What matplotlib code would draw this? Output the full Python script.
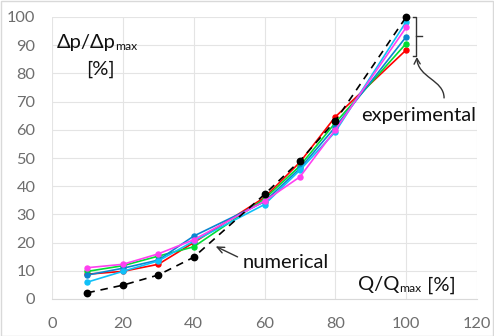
import matplotlib
matplotlib.use("Agg")
import matplotlib.pyplot as plt
from matplotlib.patches import FancyArrowPatch, Rectangle
from matplotlib.path import Path

plt.rcParams['font.family'] = ['Lato', 'DejaVu Sans']

q = [10, 20, 30, 40, 60, 70, 80, 100]
red = [8.8, 9.8, 12.3, 20.0, 36.0, 48.5, 64.6, 88.3]
green = [9.8, 11.8, 15.2, 18.5, 35.5, 47.2, 62.5, 90.6]
blue = [8.5, 10.9, 13.8, 22.3, 34.5, 46.3, 61.0, 93.0]
cyan = [6.0, 9.8, 13.5, 20.5, 33.5, 45.7, 59.3, 98.3]
magenta = [11.1, 12.3, 16.0, 21.0, 34.7, 43.3, 60.0, 96.3]
numerical = [2.2, 4.9, 8.5, 14.8, 37.1, 49.0, 63.2, 100.0]

xticks = [0, 20, 40, 60, 80, 100, 120]
yticks = [0, 10, 20, 30, 40, 50, 60, 70, 80, 90, 100]

W, H = 494, 336
fig = plt.figure(figsize=(W / 100, H / 100), dpi=100)
ax = fig.add_axes([52 / W, (H - 299) / H, (477 - 52) / W, (299 - 17) / H])

series = [(red, '#FF0000'), (green, '#00DD33'), (blue, '#0A86D0'),
          (cyan, '#10C0F8'), (magenta, '#FF40F0')]
for vals, c in series:
    ax.plot(q, vals, color=c, lw=1.2, marker='o', ms=3.6, mec=c, mfc=c, zorder=3)
ax.plot(q, numerical, color='black', lw=1.2, ls=(0, (4.5, 3.5)), marker='o',
        ms=4.6, mfc='black', mec='black', zorder=4, clip_on=False)

ax.set_xlim(0, 120)
ax.set_ylim(0, 100)
ax.set_xticks(xticks)
ax.set_yticks(yticks)
ax.grid(True, color='#E4E4E4', lw=0.8)
ax.set_axisbelow(True)
for s in ['top', 'right', 'left']:
    ax.spines[s].set_visible(False)
ax.spines['bottom'].set_color('#D9D9D9')
ax.tick_params(length=0, labelsize=11.8, labelcolor='#6E6E6E')
ax.tick_params(axis='y', pad=12)
ax.tick_params(axis='x', pad=13)

tfs = 14.5
fig.canvas.draw()
r = fig.canvas.get_renderer()


def text_with_sub(x, y, main, sub, tail=''):
    t = ax.text(x, y, main, fontsize=tfs, va='center', ha='left', color='#111111')
    bb = t.get_window_extent(renderer=r)
    inv = ax.transData.inverted()
    sx, _ = inv.transform((bb.x1 - 0.5, 0))
    ys = ax.transData.transform((0, y))[1] - 4
    _, sy = inv.transform((0, ys))
    s = ax.text(sx, sy, sub, fontsize=tfs * 0.6, va='center', ha='left', color='#111111')
    if tail:
        bb2 = s.get_window_extent(renderer=r)
        tx, _ = inv.transform((bb2.x1 + 0.5, 0))
        ax.text(tx, y, tail, fontsize=tfs, va='center', ha='left', color='#111111')


text_with_sub(1.4, 90.8, 'Δp/Δp', 'max')
ax.text(13.6, 81.4, '[%]', fontsize=tfs, va='center', ha='center', color='#111111')
text_with_sub(86.5, 5.0, 'Q/Q', 'max', ' [%]')
ax.text(87.3, 65.0, 'experimental', fontsize=tfs, va='center', ha='left', color='#111111')
ax.text(53.9, 12.8, 'numerical', fontsize=tfs, va='center', ha='left', color='#111111')

# bracket
ax.plot([101.9, 102.8, 102.8, 101.9], [100.0, 100.0, 86.2, 86.2], color='#333333',
        lw=1.0, clip_on=False, zorder=5)
ax.plot([102.8, 104.5], [93.3, 93.3], color='#333333', lw=1.0, clip_on=False, zorder=5)

# curved arrow
verts = [(110.7, 71.3), (110.7, 77.7), (103.3, 78.4), (103.0, 85.8)]
path = Path(verts, [Path.MOVETO, Path.CURVE4, Path.CURVE4, Path.CURVE4])
arr = FancyArrowPatch(path=path, arrowstyle='->,head_length=4,head_width=2.2',
                      color='#333333', lw=1.0, transform=ax.transData, clip_on=False)
ax.add_patch(arr)

ax.annotate('', xy=(45.5, 19.1), xytext=(53.1, 14.5),
            arrowprops=dict(arrowstyle='->,head_length=0.5,head_width=0.22',
                            color='#333333', lw=1.0))

fig.add_artist(Rectangle((0.5 / W, 0.5 / H), (W - 1.5) / W, (H - 1.5) / H,
                         transform=fig.transFigure, fill=False,
                         edgecolor='#D9D9D9', lw=1.0))

fig.savefig('out.png', dpi=100)
